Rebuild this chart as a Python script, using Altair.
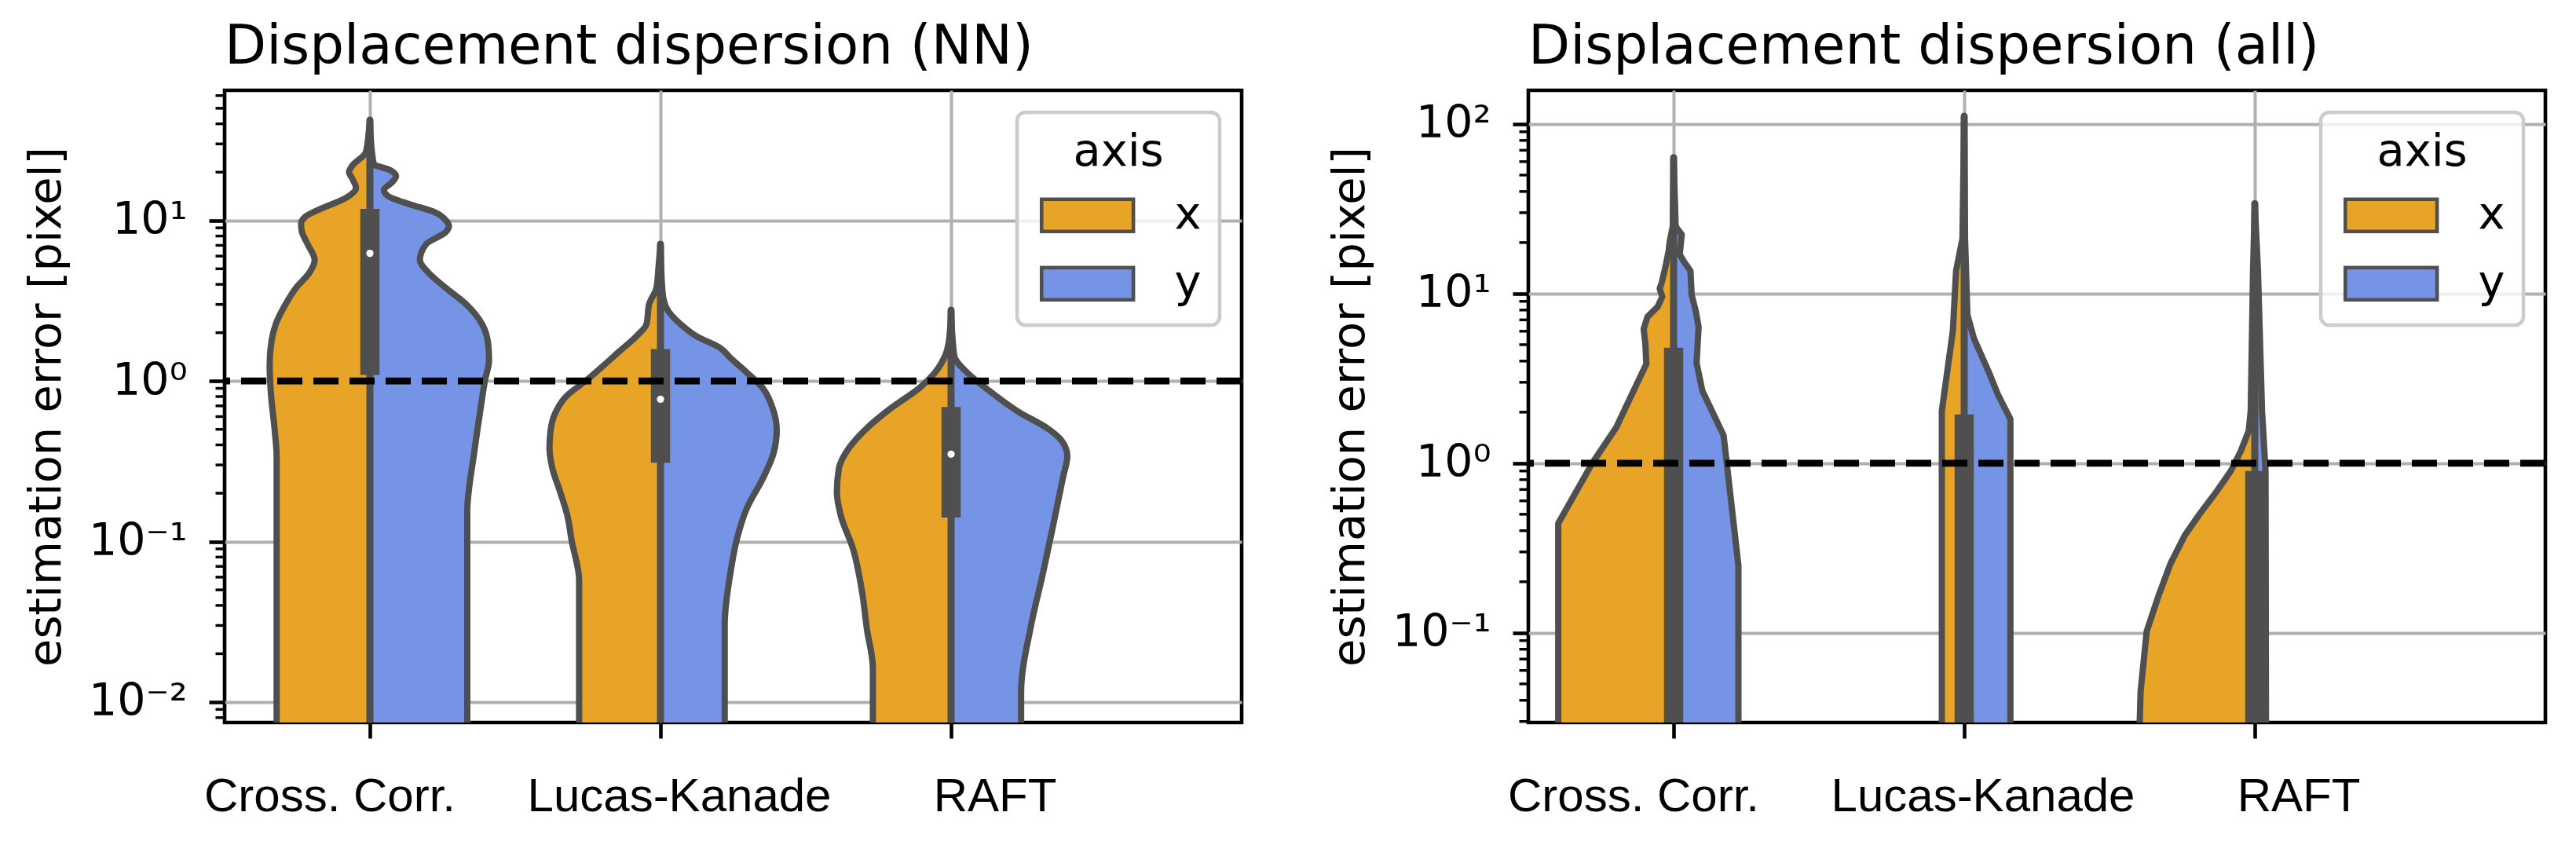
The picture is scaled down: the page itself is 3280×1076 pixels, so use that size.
import altair as alt
import pandas as pd

FONT = "DejaVu Sans"
XFONT = "Liberation Sans"
METHODS = ["Cross. Corr.", "Lucas-Kanade", "RAFT"]
AXES = ["x", "y"]
COLORS = ["#E8A427", "#7594E6"]
EDGE = "#4F4F4F"
XLABEL_SHIFT = [-51, 24, 56]   # horizontal nudges of the category labels (px)

# ---------------- Panel 1: Displacement dispersion (NN) ----------------
# violin profiles: error value [pixel] and half-width (category units)
NN_CC_X_VAL = [42.2, 35.5, 26.6, 21.8, 20.0, 18.4, 15.9, 13.8, 11.9, 10.6, 9.5, 8.5, 7.1, 5.66, 4.76, 3.79, 3.01, 2.26, 1.80, 1.27, 0.851, 0.480, 0.340, 0.001]
NN_CC_X_W = [0, 0.004, 0.014, 0.062, 0.072, 0.062, 0.048, 0.083, 0.166, 0.221, 0.237, 0.234, 0.214, 0.190, 0.207, 0.255, 0.290, 0.324, 0.338, 0.345, 0.341, 0.327, 0.321, 0.321]
NN_CC_Y_VAL = [42.2, 26.6, 22.4, 20.6, 18.9, 17.3, 15.5, 14.2, 12.6, 11.3, 10.0, 9.22, 8.5, 7.1, 5.66, 4.76, 3.79, 3.01, 2.26, 1.70, 1.35, 1.01, 0.639, 0.360, 0.152, 0.001]
NN_CC_Y_W = [0, 0.007, 0.014, 0.069, 0.090, 0.076, 0.048, 0.062, 0.138, 0.221, 0.262, 0.272, 0.262, 0.193, 0.172, 0.200, 0.262, 0.331, 0.386, 0.407, 0.410, 0.396, 0.379, 0.359, 0.335, 0.335]
NN_LK_X_VAL = [7.12, 5.05, 3.79, 3.01, 2.26, 1.90, 1.51, 1.20, 1.01, 0.804, 0.639, 0.480, 0.381, 0.286, 0.203, 0.144, 0.102, 0.0574, 0.001]
NN_LK_X_W = [0, 0.007, 0.014, 0.039, 0.048, 0.083, 0.145, 0.207, 0.255, 0.324, 0.361, 0.379, 0.382, 0.372, 0.345, 0.320, 0.306, 0.280, 0.280]
NN_LK_Y_VAL = [7.12, 3.57, 2.84, 2.26, 1.90, 1.60, 1.39, 1.13, 0.902, 0.677, 0.494, 0.360, 0.255, 0.161, 0.102, 0.0644, 0.0305, 0.001]
NN_LK_Y_W = [0, 0.007, 0.021, 0.069, 0.124, 0.207, 0.241, 0.297, 0.352, 0.386, 0.400, 0.390, 0.356, 0.297, 0.262, 0.241, 0.221, 0.221]
NN_RAFT_X_VAL = [2.76, 1.80, 1.43, 1.13, 0.902, 0.677, 0.508, 0.381, 0.286, 0.203, 0.144, 0.0908, 0.0483, 0.0288, 0.0162, 0.001]
NN_RAFT_X_W = [0, 0.007, 0.021, 0.055, 0.110, 0.207, 0.290, 0.352, 0.386, 0.393, 0.379, 0.338, 0.306, 0.290, 0.269, 0.269]
NN_RAFT_Y_VAL = [2.76, 1.43, 1.13, 0.851, 0.639, 0.508, 0.428, 0.340, 0.255, 0.128, 0.0644, 0.0305, 0.0115, 0.001]
NN_RAFT_Y_W = [0, 0.011, 0.055, 0.138, 0.234, 0.331, 0.379, 0.400, 0.386, 0.352, 0.317, 0.276, 0.241, 0.241]
NN_Q1 = [1.09, 0.31, 0.141]
NN_MED = [6.24, 0.77, 0.35]
NN_Q3 = [11.8, 1.58, 0.689]
NN_WLO = [0.001, 0.001, 0.001]
NN_WHI = [42.2, 7.12, 2.76]

# ---------------- Panel 2: Displacement dispersion (all) ----------------
ALL_CC_X_VAL = [63.4, 24.9, 20.0, 17.9, 14.4, 11.6, 10.7, 9.59, 8.36, 7.30, 6.20, 4.99, 3.84, 2.52, 1.63, 1.0, 0.442, 0.001]
ALL_CC_X_W = [0, 0.003, 0.014, 0.017, 0.028, 0.041, 0.048, 0.039, 0.055, 0.090, 0.103, 0.097, 0.094, 0.145, 0.197, 0.280, 0.397, 0.397]
ALL_CC_Y_VAL = [63.4, 24.9, 22.3, 17.0, 15.6, 13.6, 9.85, 7.92, 6.37, 3.90, 2.67, 1.46, 0.249, 0.001]
ALL_CC_Y_W = [0, 0.007, 0.028, 0.021, 0.034, 0.058, 0.062, 0.076, 0.086, 0.079, 0.099, 0.172, 0.223, 0.223]
ALL_LK_X_VAL = [111, 21.1, 13.6, 6.03, 2.03, 0.001]
ALL_LK_X_W = [0, 0.006, 0.028, 0.039, 0.077, 0.077]
ALL_LK_Y_VAL = [111, 21.1, 7.50, 5.41, 3.50, 2.52, 1.82, 0.001]
ALL_LK_Y_W = [0, 0.003, 0.011, 0.034, 0.083, 0.117, 0.159, 0.159]
ALL_RAFT_X_VAL = [33.9, 13.6, 2.03, 1.55, 1.18, 0.897, 0.683, 0.493, 0.375, 0.256, 0.166, 0.102, 0.0449, 0.026, 0.001]
ALL_RAFT_X_W = [0, 0.006, 0.014, 0.021, 0.048, 0.083, 0.131, 0.193, 0.241, 0.290, 0.331, 0.372, 0.393, 0.397, 0.397]
ALL_RAFT_Y_VAL = [33.9, 13.6, 2.03, 0.897, 0.001]
ALL_RAFT_Y_W = [0, 0.011, 0.025, 0.037, 0.040]
ALL_Q1 = [0.001, 0.001, 0.001]
ALL_MED = [0.02, 0.02, 0.01]
ALL_Q3 = [4.8, 1.94, 0.90]
ALL_WLO = [0.001, 0.001, 0.001]
ALL_WHI = [63.4, 111, 33.9]

THRESHOLD = [1.0]

PLOT_W, PLOT_H = 1295, 805


def violin_df(profiles):
    rows = []
    for (m, ax), (vals, ws) in profiles.items():
        for v, w in zip(vals, ws):
            lo, hi = (m - w, m) if ax == "x" else (m, m + w)
            rows.append({"axis": ax, "grp": f"{m}-{ax}", "v": v, "lo": lo, "hi": hi})
    return pd.DataFrame(rows)


def box_df(q1, med, q3, wlo, whi):
    return pd.DataFrame({"m": [0, 1, 2], "q1": q1, "med": med, "q3": q3, "wlo": wlo, "whi": whi})


def panel(title, profiles, box, ydomain, yticks, ylabel_expr, minors, interp):
    yscale = alt.Scale(type="log", domain=ydomain, nice=False)
    xscale = alt.Scale(domain=[-0.5, 3.0], nice=False, zero=False)
    yaxis = alt.Axis(values=yticks, labelExpr=ylabel_expr, title="estimation error [pixel]",
                     titleFont=FONT, titleFontSize=57.5, titleFontWeight="normal", titleColor="black",
                     titlePadding=24, labelFont=FONT, labelFontSize=57, labelColor="black",
                     labelPadding=28, tickSize=20, tickWidth=4.6, tickColor="black", domain=False,
                     grid=True, gridColor="#b0b0b0", gridWidth=4, labelOverlap=False, labelLimit=1000)
    xaxis = alt.Axis(values=[0, 1, 2], labels=False, title=None, tickSize=20,
                     tickWidth=4.6, tickColor="black", domain=False, grid=True,
                     gridColor="#b0b0b0", gridWidth=4)

    def Y(f):
        return alt.Y(f, scale=yscale, axis=yaxis)

    def X(f):
        return alt.X(f, scale=xscale, axis=xaxis)

    legend = alt.Legend(title="axis", orient="top-right", offset=28, padding=23, cornerRadius=11,
                        fillColor="rgba(255,255,255,0.8)", strokeColor="#cccccc",
                        titleFont=FONT, titleFontSize=57.5, titleFontWeight="normal", titleColor="black",
                        titleAnchor="middle", titlePadding=22, labelFont=FONT, labelFontSize=57.5,
                        labelColor="black", labelOffset=120,
                        symbolType="M -1 -1 L 4.7 -1 L 4.7 1 L -1 1 Z", symbolSize=1681,
                        symbolStrokeColor=EDGE, symbolStrokeWidth=4.6, symbolOpacity=1, rowPadding=27)

    vdf = violin_df(profiles)
    area = alt.Chart(vdf).mark_area(orient="horizontal", interpolate=interp, stroke=EDGE,
                                    strokeWidth=8, strokeJoin="round", clip=True, opacity=1).encode(
        y=Y("v:Q"), x=X("lo:Q"), x2="hi:Q",
        color=alt.Color("axis:N", scale=alt.Scale(domain=AXES, range=COLORS), legend=legend),
        detail="grp:N")

    bdf = box_df(*box)
    whisk = alt.Chart(bdf).mark_rule(color=EDGE, strokeWidth=9, strokeCap="round", clip=True).encode(
        x=X("m:Q"), y=Y("wlo:Q"), y2="whi:Q")
    boxr = alt.Chart(bdf).mark_rule(color=EDGE, strokeWidth=24.5, strokeCap="butt", clip=True).encode(
        x=X("m:Q"), y=Y("q1:Q"), y2="q3:Q")
    med = alt.Chart(bdf).mark_point(filled=True, color="white", size=85, opacity=1, clip=True).encode(
        x=X("m:Q"), y=Y("med:Q"))
    thr = alt.Chart(pd.DataFrame({"t": THRESHOLD})).mark_rule(
        color="black", strokeWidth=8.6, strokeDash=[32, 14]).encode(y=Y("t:Q"))
    mino = alt.Chart(pd.DataFrame({"mv": minors})).mark_rule(color="black", strokeWidth=3.45).encode(
        y=Y("mv:Q"), x=alt.value(-11.5), x2=alt.value(0))

    ldf = pd.DataFrame({"m": [0, 1, 2], "name": METHODS})
    labels = [
        alt.Chart(ldf).transform_filter(f"datum.m == {i}").mark_text(
            font=XFONT, fontSize=60, color="black", align="center", baseline="alphabetic",
            dx=XLABEL_SHIFT[i]).encode(x=X("m:Q"), y=alt.value(PLOT_H + 113), text="name:N")
        for i in range(3)
    ]

    return alt.layer(area, whisk, boxr, med, thr, mino, *labels).properties(
        width=PLOT_W, height=PLOT_H,
        title=alt.TitleParams(title, anchor="start", frame="group", fontSize=69, font=FONT,
                              fontWeight="normal", color="black", offset=20))


def minor_ticks(decades, lo, hi):
    out = []
    for d in decades:
        for k in range(2, 10):
            v = round(k * d, 6)
            if lo < v < hi:
                out.append(v)
    return out


nn_profiles = {
    (0, "x"): (NN_CC_X_VAL, NN_CC_X_W), (0, "y"): (NN_CC_Y_VAL, NN_CC_Y_W),
    (1, "x"): (NN_LK_X_VAL, NN_LK_X_W), (1, "y"): (NN_LK_Y_VAL, NN_LK_Y_W),
    (2, "x"): (NN_RAFT_X_VAL, NN_RAFT_X_W), (2, "y"): (NN_RAFT_Y_VAL, NN_RAFT_Y_W),
}
all_profiles = {
    (0, "x"): (ALL_CC_X_VAL, ALL_CC_X_W), (0, "y"): (ALL_CC_Y_VAL, ALL_CC_Y_W),
    (1, "x"): (ALL_LK_X_VAL, ALL_LK_X_W), (1, "y"): (ALL_LK_Y_VAL, ALL_LK_Y_W),
    (2, "x"): (ALL_RAFT_X_VAL, ALL_RAFT_X_W), (2, "y"): (ALL_RAFT_Y_VAL, ALL_RAFT_Y_W),
}

NN_DOMAIN = [0.00746, 64.7]
ALL_DOMAIN = [0.0296, 158]

left = panel("Displacement dispersion (NN)", nn_profiles,
             (NN_Q1, NN_MED, NN_Q3, NN_WLO, NN_WHI), NN_DOMAIN, [0.01, 0.1, 1, 10],
             "datum.value < 0.05 ? '10\u207b\u00b2' : datum.value < 0.5 ? '10\u207b\u00b9' : datum.value < 5 ? '10\u2070' : '10\u00b9'",
             minor_ticks([0.001, 0.01, 0.1, 1, 10], *NN_DOMAIN), "monotone")
right = panel("Displacement dispersion (all)", all_profiles,
              (ALL_Q1, ALL_MED, ALL_Q3, ALL_WLO, ALL_WHI), ALL_DOMAIN, [0.1, 1, 10, 100],
              "datum.value < 0.5 ? '10\u207b\u00b9' : datum.value < 5 ? '10\u2070' : datum.value < 50 ? '10\u00b9' : '10\u00b2'",
              minor_ticks([0.01, 0.1, 1, 10, 100], *ALL_DOMAIN), "linear")

chart = alt.hconcat(left, right, spacing=100).resolve_scale(
    x="independent", y="independent", color="independent").resolve_legend(
    color="independent").properties(
    padding={"left": 20, "top": 15, "right": 5, "bottom": 5}, background="white").configure_view(
    stroke="black", strokeWidth=4.6).configure_legend(strokeWidth=4.6)

chart.save("out.html", embed_options={"renderer": "svg", "actions": False})
